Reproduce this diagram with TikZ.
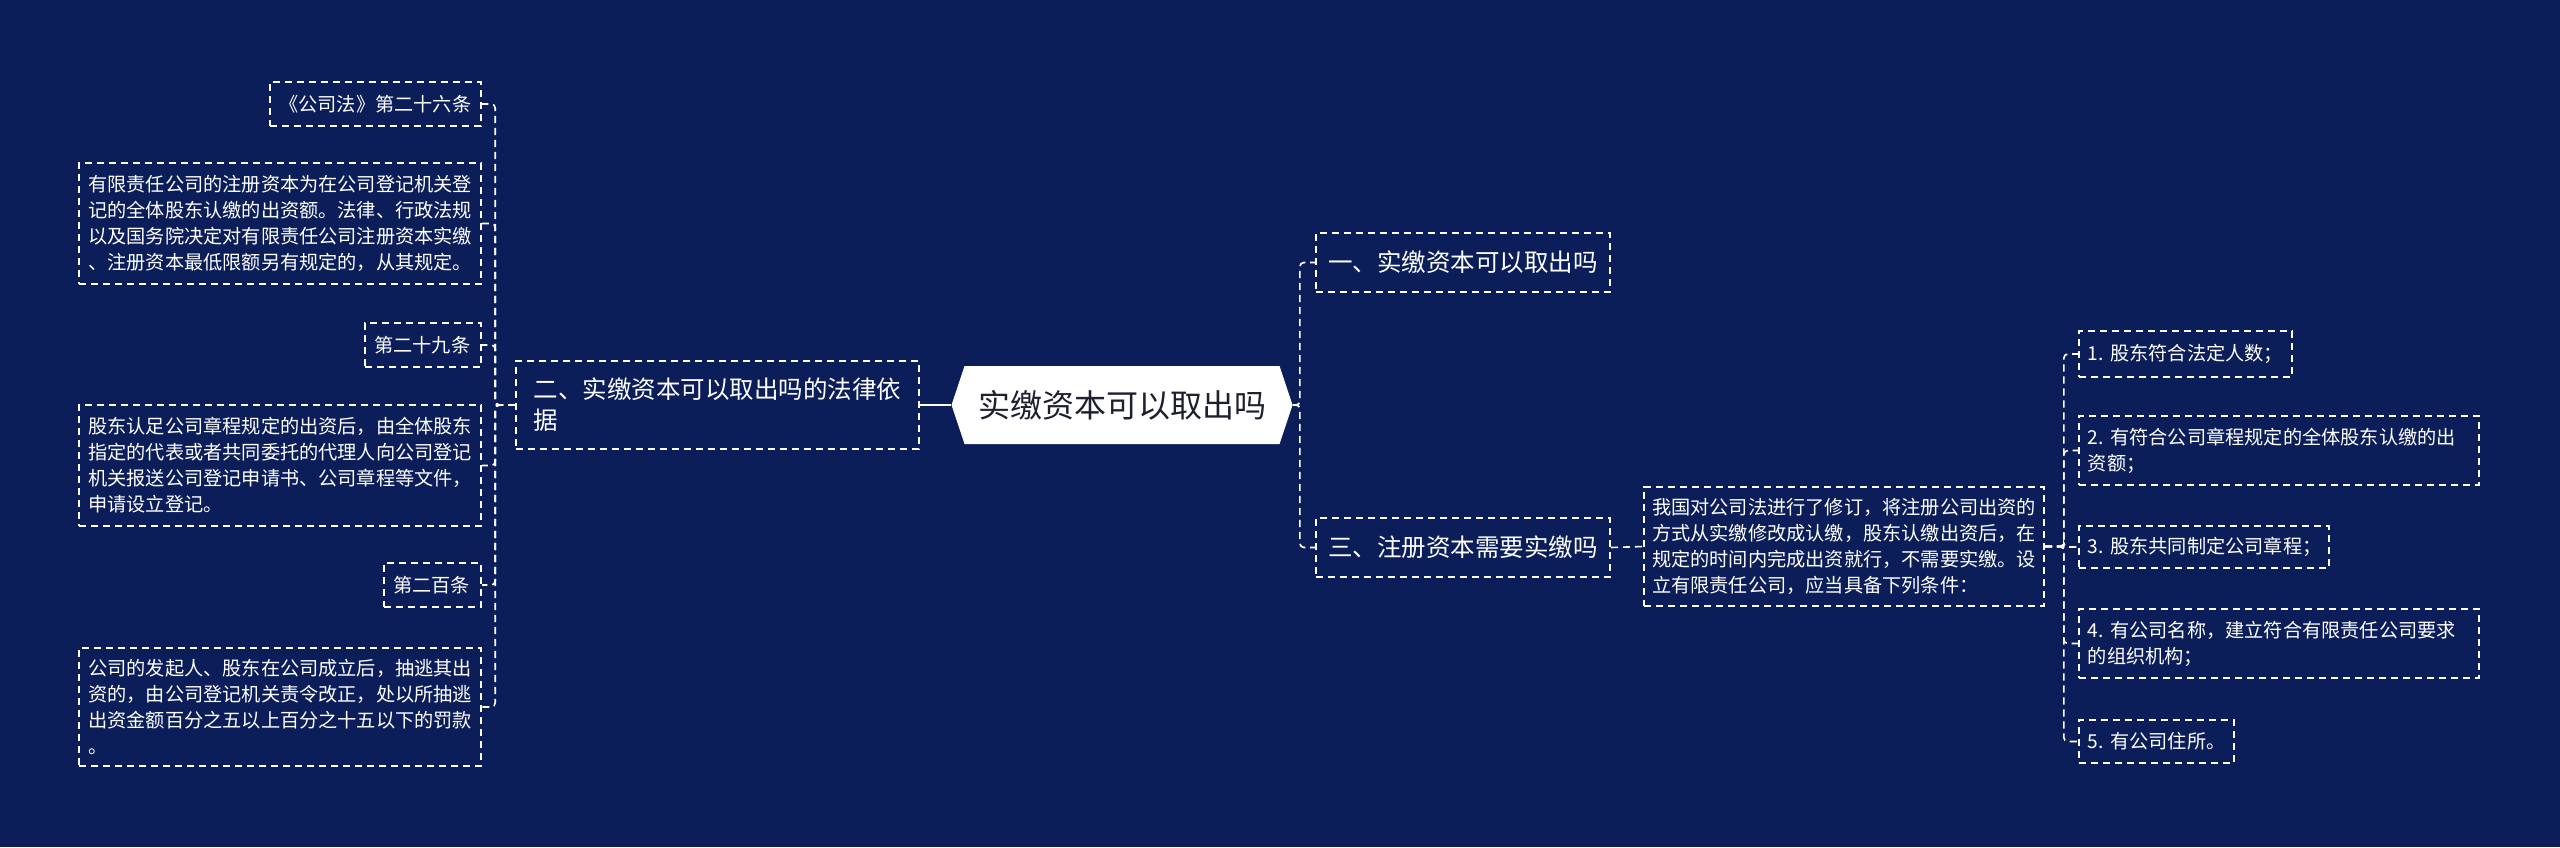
\documentclass[tikz,border=0pt]{standalone}
\usepackage{fontspec}
\setmainfont{Noto Sans CJK SC}
\definecolor{bg}{RGB}{11,30,90}
\definecolor{roottext}{RGB}{30,32,48}
\begin{document}
\begin{tikzpicture}[x=0.5pt,y=-0.5pt,
  dashline/.style={draw=white, line width=0.8pt, dash pattern=on 3.6pt off 2.4pt},
  sbox/.style={dashline, text=white, font=\fontsize{9.6pt}{13pt}\selectfont, align=left, inner xsep=4.5pt, inner ysep=0pt},
  mbox/.style={dashline, text=white, font=\fontsize{12.25pt}{15.5pt}\selectfont, align=left, inner ysep=0pt},
  conn/.style={dashline, rounded corners=2pt},
  solidconn/.style={draw=white, line width=0.8pt}
]
\useasboundingbox (0,0) rectangle (2560,847);
\fill[bg] (0,0) rectangle (2560,847);

% root
\node[minimum width=170.5pt, minimum height=39pt, inner sep=0pt, text=roottext,
  font=\fontsize{16pt}{19pt}\selectfont,
  path picture={\fill[white] (path picture bounding box.west) -- ([xshift=6.5pt]path picture bounding box.north west) -- ([xshift=-6.5pt]path picture bounding box.north east) -- (path picture bounding box.east) -- ([xshift=-6.5pt]path picture bounding box.south east) -- ([xshift=6.5pt]path picture bounding box.south west) -- cycle;}]
  (root) at (1122,405) {实缴资本可以取出吗};

% left branch
\node[mbox, text width=184pt, inner xsep=8.75pt, minimum height=44pt] (n2) at (717.5,405)
  {二、实缴资本可以取出吗的法律依\\据};

\node[sbox, anchor=east, text width=96.5pt, minimum height=22pt] (l1) at (482,104) {《公司法》第二十六条};
\node[sbox, anchor=east, text width=192pt, minimum height=60.5pt] (b1) at (482,223.5)
  {有限责任公司的注册资本为在公司登记机关登\\记的全体股东认缴的出资额。法律、行政法规\\以及国务院决定对有限责任公司注册资本实缴\\、注册资本最低限额另有规定的，从其规定。};
\node[sbox, anchor=east, text width=49pt, minimum height=22pt] (l2) at (482,345) {第二十九条};
\node[sbox, anchor=east, text width=192pt, minimum height=60.5pt] (b2) at (482,465.5)
  {股东认足公司章程规定的出资后，由全体股东\\指定的代表或者共同委托的代理人向公司登记\\机关报送公司登记申请书、公司章程等文件，\\申请设立登记。};
\node[sbox, anchor=east, text width=39.5pt, minimum height=22pt] (l3) at (482,585) {第二百条};
\node[sbox, anchor=east, text width=192pt, minimum height=59pt] (b3) at (482,707)
  {公司的发起人、股东在公司成立后，抽逃其出\\资的，由公司登记机关责令改正，处以所抽逃\\出资金额百分之五以上百分之十五以下的罚款\\。};

% right branch
\node[mbox, text width=135pt, inner xsep=6pt, minimum height=29.5pt] (n1) at (1463,262.5) {一、实缴资本可以取出吗};
\node[mbox, text width=135pt, inner xsep=6pt, minimum height=29.5pt] (n3) at (1463,547.5) {三、注册资本需要实缴吗};

\node[sbox, text width=192pt, inner xsep=4pt, minimum height=59.5pt] (p) at (1844,546.5)
  {我国对公司法进行了修订，将注册公司出资的\\方式从实缴修改成认缴，股东认缴出资后，在\\规定的时间内完成出资就行，不需要实缴。设\\立有限责任公司，应当具备下列条件：};

\node[sbox, anchor=west, text width=97.5pt, minimum height=23pt] (i1) at (2078,354) {1.~股东符合法定人数；};
\node[sbox, anchor=west, text width=191pt, minimum height=34.5pt] (i2) at (2078,450.5) {2.~有符合公司章程规定的全体股东认缴的出\\资额；};
\node[sbox, anchor=west, text width=116pt, minimum height=21pt] (i3) at (2078,547) {3.~股东共同制定公司章程；};
\node[sbox, anchor=west, text width=191pt, minimum height=34.5pt] (i4) at (2078,643.5) {4.~有公司名称，建立符合有限责任公司要求\\的组织机构；};
\node[sbox, anchor=west, text width=68.5pt, minimum height=21.5pt] (i5) at (2078,741.5) {5.~有公司住所。};

% connectors
\draw[solidconn] (n2.east) -- (root.west);
\foreach \c in {l1,b1,l2,b2,l3,b3}
  \draw[conn] (n2.west) -- ++(-20,0) |- (\c.east);
\foreach \c in {n1,n3}
  \draw[conn] (root.east) -- ++(7,0) |- (\c.west);
\draw[conn] (n3.east) -- (p.west);
\foreach \c in {i1,i2,i3,i4,i5}
  \draw[conn] (p.east) -- ++(19,0) |- (\c.west);
\end{tikzpicture}
\end{document}
